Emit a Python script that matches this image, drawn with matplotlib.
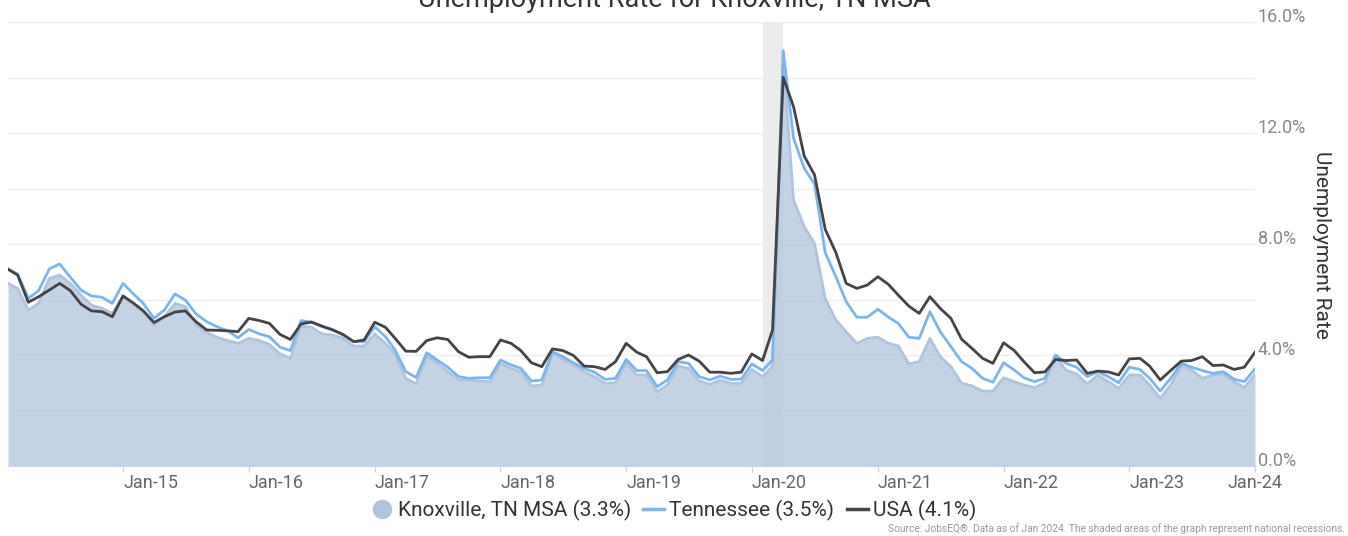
# Unemployment rate chart, Knoxville / Tennessee / USA
# monthly values (Feb 2014 - Jan 2024)

import matplotlib.pyplot as plt
from matplotlib.lines import Line2D
import pandas as pd

plt.rcParams['font.family'] = ['Roboto', 'DejaVu Sans']

start_month = '2014-02-01'

knox = [6.58, 6.40, 5.62, 5.86, 6.76, 6.88, 6.58, 6.16, 5.80, 5.68, 5.50,
        6.10, 5.86, 5.56, 5.08, 5.38, 5.86, 5.74, 5.08, 4.81, 4.64, 4.52, 4.42,
        4.60, 4.52, 4.38, 4.04, 3.88, 5.04, 5.00, 4.76, 4.72, 4.60, 4.32, 4.32,
        4.76, 4.42, 4.04, 3.16, 2.96, 3.96, 3.72, 3.40, 3.10, 3.10, 3.07, 3.04,
        3.70, 3.52, 3.40, 2.88, 2.92, 4.08, 3.84, 3.64, 3.40, 3.22, 2.98, 3.00,
        3.70, 3.28, 3.28, 2.68, 2.92, 3.60, 3.52, 3.07, 2.94, 3.10, 2.98, 2.98,
        3.48, 3.22, 3.58, 14.70, 9.59, 8.63, 8.02, 6.04, 5.26, 4.84, 4.42, 4.60,
        4.64, 4.42, 4.33, 3.68, 3.76, 4.60, 3.94, 3.58, 2.98, 2.89, 2.70, 2.70,
        3.18, 3.04, 2.92, 2.83, 3.00, 3.94, 3.46, 3.32, 2.96, 3.28, 3.04, 2.80,
        3.28, 3.28, 2.92, 2.44, 2.92, 3.60, 3.46, 3.16, 3.28, 3.32, 3.04, 2.83,
        3.30]

tn = [7.10, 6.92, 6.04, 6.32, 7.10, 7.28, 6.80, 6.34, 6.13, 6.08, 5.86,
      6.58, 6.19, 5.86, 5.32, 5.62, 6.20, 5.98, 5.48, 5.20, 5.02, 4.87, 4.62,
      4.92, 4.76, 4.66, 4.28, 4.16, 5.24, 5.18, 5.02, 4.92, 4.72, 4.48, 4.48,
      5.02, 4.66, 4.18, 3.40, 3.19, 4.08, 3.82, 3.56, 3.22, 3.16, 3.18, 3.18,
      3.82, 3.64, 3.52, 3.06, 3.10, 4.12, 3.94, 3.72, 3.52, 3.38, 3.12, 3.16,
      3.84, 3.44, 3.44, 2.86, 3.10, 3.76, 3.70, 3.22, 3.10, 3.24, 3.12, 3.13,
      3.68, 3.44, 3.82, 14.97, 11.81, 10.73, 10.16, 7.69, 6.82, 5.92, 5.36, 5.36,
      5.65, 5.36, 5.14, 4.64, 4.60, 5.56, 4.84, 4.30, 3.76, 3.52, 3.16, 3.02,
      3.72, 3.46, 3.18, 3.04, 3.16, 4.00, 3.70, 3.56, 3.22, 3.40, 3.22, 3.00,
      3.56, 3.48, 3.16, 2.70, 3.16, 3.70, 3.56, 3.44, 3.34, 3.40, 3.13, 3.04,
      3.50]

usa = [7.09, 6.88, 5.90, 6.10, 6.34, 6.58, 6.32, 5.83, 5.59, 5.56, 5.38,
       6.13, 5.86, 5.59, 5.17, 5.38, 5.55, 5.59, 5.20, 4.90, 4.89, 4.87, 4.84,
       5.32, 5.24, 5.14, 4.74, 4.56, 5.12, 5.19, 5.04, 4.90, 4.74, 4.48, 4.54,
       5.18, 5.00, 4.60, 4.14, 4.13, 4.52, 4.62, 4.56, 4.12, 3.92, 3.94, 3.94,
       4.54, 4.42, 4.16, 3.72, 3.58, 4.22, 4.16, 3.98, 3.60, 3.58, 3.48, 3.76,
       4.42, 4.10, 3.94, 3.36, 3.40, 3.84, 4.00, 3.78, 3.38, 3.38, 3.34, 3.38,
       4.04, 3.80, 4.90, 14.01, 12.95, 11.17, 10.49, 8.53, 7.69, 6.58, 6.40, 6.52,
       6.82, 6.54, 6.16, 5.76, 5.50, 6.10, 5.68, 5.32, 4.57, 4.24, 3.88, 3.70,
       4.44, 4.16, 3.76, 3.36, 3.39, 3.84, 3.80, 3.82, 3.34, 3.42, 3.39, 3.28,
       3.86, 3.88, 3.60, 3.10, 3.44, 3.78, 3.80, 3.94, 3.62, 3.64, 3.48, 3.56,
       4.10]

legend_labels = ['Knoxville, TN MSA (3.3%)', 'Tennessee (3.5%)', 'USA (4.1%)']
recession = ('2020-02-01', '2020-04-01')
yticks = [0, 4, 8, 12, 16]
ytick_labels = ['0.0%', '4.0%', '8.0%', '12.0%', '16.0%']
xtick_years = pd.date_range('2015-01-01', '2024-01-01', freq='YS')

months = pd.date_range(start_month, periods=len(usa), freq='MS')

W, H = 1348, 536
fig = plt.figure(figsize=(W / 100, H / 100), dpi=100)
ax = fig.add_axes([8 / W, 70 / H, (1255 - 8) / W, 444 / H])

# recession band
ax.axvspan(pd.Timestamp(recession[0]), pd.Timestamp(recession[1]),
           color='#ececec', lw=0, zorder=0)

ax.fill_between(months, knox, color='#b0c4de', alpha=0.75, lw=0, zorder=1)
ax.plot(months, knox, color='#b0c4de', lw=2, zorder=2)
ax.plot(months, tn, color='#7cb5ec', lw=2, zorder=3)
ax.plot(months, usa, color='#434348', lw=2, zorder=4)

ax.set_xlim(months[0], months[-1])
ax.set_ylim(0, 16)

# y axis on the right
ax.yaxis.tick_right()
ax.set_yticks(yticks)
ax.set_yticklabels(ytick_labels)
ax.set_yticks([2, 6, 10, 14], minor=True)
ax.tick_params(axis='y', which='both', length=0, pad=2, labelsize=13,
               labelcolor='#888888')
plt.setp(ax.get_yticklabels(), va='baseline')
ax.grid(axis='y', which='both', color='#eeeeee', lw=1)
ax.set_axisbelow(True)

# x axis
ax.set_xticks(xtick_years)
ax.set_xticklabels([d.strftime('%b-%y') for d in xtick_years])
ax.tick_params(axis='x', length=4, width=1, color='#ccd6eb', pad=2,
               labelsize=13, labelcolor='#666666')
xl = ax.get_xticklabels()
for lab in xl[:-1]:
    lab.set_ha('left')
xl[-1].set_ha('center')

for s in ['top', 'left', 'right']:
    ax.spines[s].set_visible(False)
ax.spines['bottom'].set_color('#ccd6eb')

fig.text(1322 / W, 1 - 245 / H, 'Unemployment Rate', rotation=270,
         ha='center', va='center', fontsize=15, color='#333333')

fig.text(0.5, 1 - 7 / H, 'Unemployment Rate for Knoxville, TN MSA',
         ha='center', va='baseline', fontsize=19.5, color='#333333')

handles = [Line2D([], [], marker='o', ls='', markersize=13, color='#b0c4de'),
           Line2D([], [], color='#7cb5ec', lw=2.5),
           Line2D([], [], color='#434348', lw=2.5)]
fig.legend(handles, legend_labels, loc='center', bbox_to_anchor=(0.5, 1 - 510 / H),
           ncol=3, frameon=False, fontsize=15, handlelength=1.0,
           handletextpad=0.25, columnspacing=0.6, labelcolor='#333333')

fig.text(1345 / W, 1 - 529 / H,
         'Source: JobsEQ®. Data as of Jan 2024. The shaded areas of the graph represent national recessions.',
         ha='right', va='center', fontsize=7.3, color='#999999')

fig.savefig('out.png', dpi=100)
